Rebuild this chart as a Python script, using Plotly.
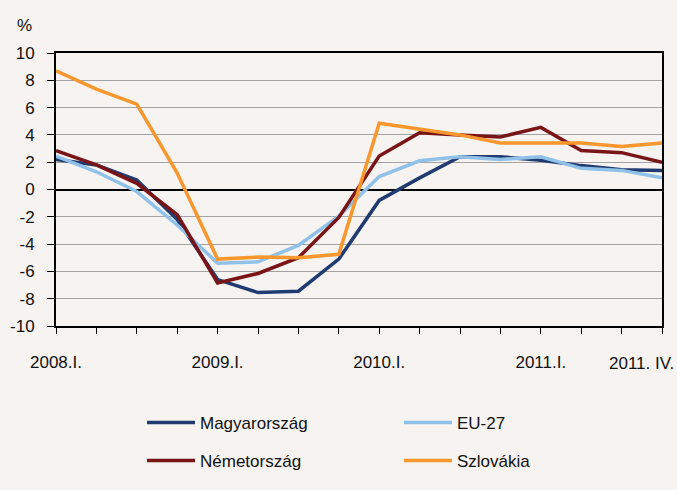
import plotly.graph_objects as go

quarters = ["2008.I.", "2008.II.", "2008.III.", "2008.IV.",
            "2009.I.", "2009.II.", "2009.III.", "2009.IV.",
            "2010.I.", "2010.II.", "2010.III.", "2010.IV.",
            "2011.I.", "2011.II.", "2011.III.", "2011. IV."]
tick_labels = ["2008.I.", "", "", "", "2009.I.", "", "", "", "2010.I.", "", "", "",
               "2011.I.", "", "", ""]
y_ticks = [-10, -8, -6, -4, -2, 0, 2, 4, 6, 8, 10]
y_tick_labels = ["-10", "-8", "-6", "-4", "-2", "0", "2", "4", "6", "8", "10"]

magyarorszag = [2.2, 1.8, 0.7, -2.2, -6.6, -7.55, -7.45, -5.1, -0.8, 0.85, 2.4, 2.4, 2.15, 1.75, 1.45, 1.4]
eu27 = [2.45, 1.3, -0.15, -2.6, -5.4, -5.3, -4.1, -1.95, 0.95, 2.1, 2.4, 2.2, 2.4, 1.55, 1.4, 0.85]
nemetorszag = [2.85, 1.8, 0.45, -1.85, -6.85, -6.15, -5.0, -2.05, 2.45, 4.15, 4.0, 3.85, 4.55, 2.85, 2.7, 2.0]
szlovakia = [8.7, 7.35, 6.25, 1.2, -5.1, -4.95, -5.0, -4.75, 4.85, 4.45, 4.0, 3.4, 3.4, 3.4, 3.15, 3.4]

series = [
    ("Magyarország", magyarorszag, "#1f3b70", "legend"),
    ("EU-27", eu27, "#8fc1e9", "legend"),
    ("Németország", nemetorszag, "#7a1517", "legend2"),
    ("Szlovákia", szlovakia, "#f7972e", "legend2"),
]

FONT = "Liberation Sans, Arial"
BG = "#f6f3f0"
x = list(range(len(quarters)))

fig = go.Figure()
for name, vals, color, leg in series:
    fig.add_trace(go.Scatter(x=x, y=vals, mode="lines", name=name,
                             line=dict(color=color, width=3.5),
                             legend=leg, customdata=quarters))

legend_common = dict(orientation="h", xref="container", yref="container",
                     xanchor="left", yanchor="middle",
                     entrywidth=194, entrywidthmode="pixels", itemwidth=48,
                     bgcolor="rgba(0,0,0,0)", font=dict(size=17), traceorder="normal")

fig.update_layout(
    width=677, height=490,
    margin=dict(l=56, r=15, t=53, b=164),
    paper_bgcolor=BG, plot_bgcolor=BG,
    font=dict(family=FONT, size=17, color="#111111"),
    showlegend=True,
    legend=dict(x=142 / 677, y=1 - 423 / 490, **legend_common),
    legend2=dict(x=142 / 677, y=1 - 461 / 490, **legend_common),
    xaxis=dict(range=[0, 15], tickvals=x, ticktext=tick_labels, automargin=False,
               ticks="outside", ticklen=6, tickcolor="#000000", tickwidth=1,
               showgrid=False, zeroline=False,
               showline=True, linecolor="#000000", linewidth=2, mirror=True,
               ticklabelstandoff=14, tickangle=0),
    yaxis=dict(range=[-10, 10], tickvals=y_ticks, ticktext=y_tick_labels, automargin=False,
               ticks="outside", ticklen=7, tickcolor="#000000", tickwidth=1,
               showgrid=True, gridcolor="#a3a3a3", gridwidth=1,
               zeroline=True, zerolinecolor="#000000", zerolinewidth=2,
               showline=True, linecolor="#000000", linewidth=2, mirror=True,
               ticklabelstandoff=9),
)

fig.add_annotation(text="%", xref="paper", yref="paper", x=-0.052, y=1.0,
                   yshift=28, xanchor="center", yanchor="middle",
                   showarrow=False, font=dict(size=17))
fig.add_annotation(text="2011. IV.", xref="paper", yref="paper",
                   x=(676 - 56) / 606, y=0, yshift=-37, xanchor="right", yanchor="middle",
                   showarrow=False, font=dict(size=17))

fig.write_html("out.html", config={"displayModeBar": False},
               post_script="document.body.style.margin='0';document.body.style.overflow='hidden';")
